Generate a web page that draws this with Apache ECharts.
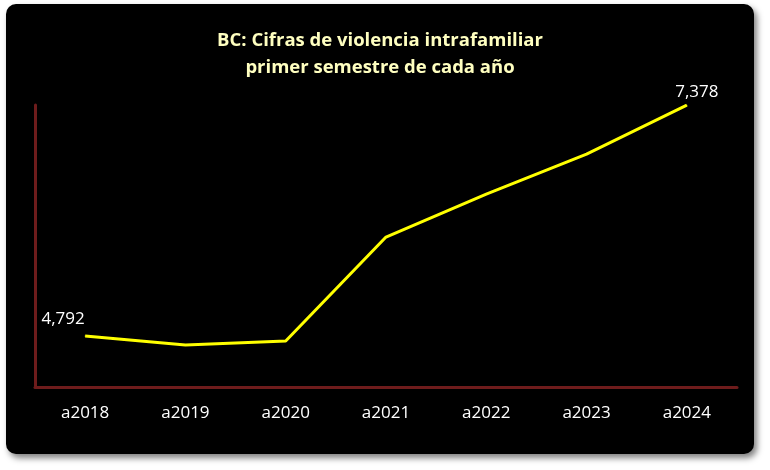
<!DOCTYPE html>
<html><head><meta charset="utf-8">
<script src="https://cdn.jsdelivr.net/npm/echarts@6/dist/echarts.min.js"></script>
<style>
html,body{margin:0;padding:0;background:#fff;width:770px;height:470px;overflow:hidden}
#box{position:absolute;left:6px;top:4px;width:748px;height:450px;background:#000;border-radius:10px;box-shadow:3px 4px 6px rgba(0,0,0,0.5)}
#c{width:748px;height:450px}
</style></head><body>
<div id="box"><div id="c"></div></div>
<script>
const categories=['a2018','a2019','a2020','a2021','a2022','a2023','a2024'];
const values=[4792,4691,4736,5900,6381,6829,7378];
const titleLines=['BC: Cifras de violencia intrafamiliar','primer semestre de cada año'];
const last=values.length-1;
const seriesData=values.map((v,i)=>({value:v,label:{show:i===0||i===last}}));
const chart=echarts.init(document.getElementById('c'));
chart.setOption({
  backgroundColor:'transparent',
  title:{text:titleLines.join('\n'),left:'center',top:18,textStyle:{color:'#ffffc0',fontSize:18.5,fontWeight:'bold',fontFamily:'Open Sans',lineHeight:27}},
  grid:{left:29,right:17,top:101,bottom:67},
  xAxis:{type:'category',data:categories,boundaryGap:true,
    axisLine:{lineStyle:{color:'#6e1c1c',width:3}},axisTick:{show:false},
    axisLabel:{color:'#fff',fontSize:17,fontFamily:'Open Sans',margin:18}},
  yAxis:{type:'value',min:4220,max:7380,splitLine:{show:false},axisLabel:{show:false},axisTick:{show:false},
    axisLine:{show:true,lineStyle:{color:'#6e1c1c',width:3}}},
  series:[{type:'line',data:seriesData,symbol:'circle',symbolSize:1,showSymbol:true,
    itemStyle:{color:'#ffff00'},lineStyle:{color:'#ffff00',width:3},
    label:{position:'top',color:'#fff',fontSize:17,fontFamily:'Open Sans',distance:6,
      formatter:p=>p.value.toLocaleString('en-US')},
    labelLayout:p=>p.dataIndex===0?{dx:-22,dy:-2}:{dx:10,dy:2}}]
});
</script></body></html>
